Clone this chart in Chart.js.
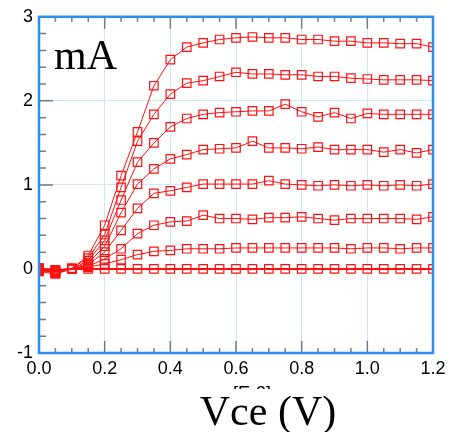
<!DOCTYPE html>
<html lang="en">
<head>
    <meta charset="UTF-8">
    <title>Ic - Vce</title>
    <script src="https://cdn.jsdelivr.net/npm/chart.js@4.4.1/dist/chart.umd.min.js"></script>
    <style>
        body { margin: 0; background: #fff; }
        .chart-box { width: 462px; height: 432px; position: relative; }
    </style>
</head>
<body>
    <div class="chart-box">
        <canvas id="ivChart"></canvas>
    </div>
    <script>
        // Vce sweep (V)
        const vce = [0.00, 0.05, 0.10, 0.15, 0.20, 0.25, 0.30, 0.35, 0.40, 0.45, 0.50, 0.55, 0.60,
                     0.65, 0.70, 0.75, 0.80, 0.85, 0.90, 0.95, 1.00, 1.05, 1.10, 1.15, 1.20];

        // collector current (mA), one curve per base step, top to bottom
        const ic1 = [-0.02, -0.04, 0.00, 0.16, 0.52, 1.11, 1.63, 2.18, 2.49, 2.64, 2.69, 2.73, 2.75,
                     2.76, 2.75, 2.75, 2.73, 2.73, 2.71, 2.71, 2.69, 2.69, 2.68, 2.68, 2.64];
        const ic2 = [0.01, -0.02, 0.01, 0.13, 0.41, 0.97, 1.52, 1.84, 2.08, 2.21, 2.24, 2.29, 2.34,
                     2.32, 2.32, 2.31, 2.31, 2.29, 2.29, 2.27, 2.26, 2.25, 2.25, 2.25, 2.24];
        const ic3 = [-0.01, -0.05, 0.00, 0.10, 0.34, 0.82, 1.27, 1.50, 1.69, 1.79, 1.84, 1.86, 1.87,
                     1.88, 1.88, 1.96, 1.87, 1.81, 1.86, 1.79, 1.85, 1.84, 1.84, 1.84, 1.84];
        const ic4 = [0.00, -0.03, 0.00, 0.07, 0.27, 0.67, 1.01, 1.19, 1.31, 1.36, 1.42, 1.43, 1.44,
                     1.52, 1.44, 1.44, 1.43, 1.45, 1.42, 1.42, 1.42, 1.39, 1.42, 1.38, 1.42];
        const ic5 = [-0.03, -0.06, 0.00, 0.05, 0.20, 0.46, 0.72, 0.90, 0.93, 0.97, 1.01, 1.01, 1.01,
                     1.01, 1.05, 1.01, 1.00, 0.99, 1.00, 0.99, 1.00, 0.99, 1.00, 0.99, 1.01];
        const ic6 = [0.01, -0.01, 0.00, 0.03, 0.12, 0.24, 0.42, 0.52, 0.56, 0.57, 0.64, 0.60, 0.60,
                     0.59, 0.61, 0.61, 0.62, 0.60, 0.58, 0.60, 0.60, 0.60, 0.60, 0.59, 0.62];
        const ic7 = [-0.02, -0.03, 0.00, 0.02, 0.06, 0.11, 0.17, 0.21, 0.22, 0.24, 0.24, 0.24, 0.25,
                     0.25, 0.25, 0.25, 0.25, 0.25, 0.25, 0.24, 0.25, 0.25, 0.24, 0.25, 0.25];
        const ic8 = [0.00, -0.02, 0.00, 0.00, 0.00, 0.00, 0.00, 0.00, 0.00, 0.00, 0.00, 0.00, 0.00,
                     0.00, 0.00, 0.00, 0.00, 0.00, 0.00, 0.00, 0.00, 0.00, 0.00, 0.00, 0.00];

        const curves = [ic1, ic2, ic3, ic4, ic5, ic6, ic7, ic8];
        const yTicks = [-1, 0, 1, 2, 3];

        const RED = '#ff1010';
        const BLUE = '#2b8ef0';

        // frame, inner tick marks and the serif labels
        const decor = {
            id: 'decor',
            beforeDatasetsDraw(chart) {
                const { ctx, chartArea: a, scales: { x, y } } = chart;
                ctx.save();
                ctx.strokeStyle = '#6d7c8a';
                ctx.lineWidth = 1.5;
                ctx.beginPath();
                // left axis: every 0.2 mA
                for (let i = 0; i <= 20; i++) {
                    const p = y.getPixelForValue(-1 + i * 0.2);
                    const len = i % 5 === 0 ? 14 : 7;
                    ctx.moveTo(a.left, p);
                    ctx.lineTo(a.left + len, p);
                }
                // top and bottom axis: every 0.05 V
                for (let i = 0; i <= 24; i++) {
                    const p = x.getPixelForValue(i * 0.05);
                    const len = i % 4 === 0 ? 12 : 5;
                    ctx.moveTo(p, a.top);
                    ctx.lineTo(p, a.top + len);
                    ctx.moveTo(p, a.bottom);
                    ctx.lineTo(p, a.bottom - len);
                }
                ctx.stroke();
                ctx.restore();
            },
            afterDraw(chart) {
                const { ctx, chartArea: a } = chart;
                ctx.save();
                ctx.strokeStyle = BLUE;
                ctx.lineWidth = 2.5;
                ctx.strokeRect(a.left, a.top, a.right - a.left, a.bottom - a.top);

                ctx.fillStyle = '#000';
                ctx.font = '42px "Liberation Serif"';
                ctx.textAlign = 'left';
                ctx.textBaseline = 'alphabetic';
                ctx.fillText('mA', 54, 69);

                // exponent marker, mostly hidden under the axis title
                ctx.save();
                ctx.beginPath();
                ctx.rect(200, 378, 100, 11);
                ctx.clip();
                ctx.font = '18px "Liberation Sans"';
                ctx.textAlign = 'center';
                ctx.fillText('[E-3]', 252, 399);
                ctx.restore();

                ctx.font = '42px "Liberation Serif"';
                ctx.textAlign = 'center';
                ctx.fillText('Vce (V)', 268, 425);
                ctx.restore();
            }
        };

        const ctx = document.getElementById('ivChart').getContext('2d');
        new Chart(ctx, {
            type: 'line',
            data: {
                datasets: curves.map((c, i) => ({
                    data: vce.map((v, j) => ({ x: v, y: c[j] })),
                    borderColor: RED,
                    borderWidth: i === curves.length - 1 ? 2 : 1,
                    backgroundColor: 'rgba(0,0,0,0)',
                    pointStyle: 'rect',
                    pointRadius: 6,
                    pointBorderWidth: 1.2,
                    pointBorderColor: RED,
                    pointBackgroundColor: 'rgba(0,0,0,0)',
                    tension: 0,
                    clip: 0
                }))
            },
            options: {
                responsive: true,
                maintainAspectRatio: false,
                animation: false,
                events: [],
                layout: { padding: { left: 0, right: 29, top: 16, bottom: 0 } },
                plugins: {
                    legend: { display: false },
                    tooltip: { enabled: false }
                },
                scales: {
                    x: {
                        type: 'linear',
                        min: 0,
                        max: 1.2,
                        afterFit: s => { s.height = 79; },
                        ticks: {
                            stepSize: 0.2,
                            padding: 5,
                            color: '#000',
                            font: { family: 'Liberation Sans', size: 18 },
                            callback: v => v.toFixed(1)
                        },
                        grid: { color: '#cde8fb', lineWidth: 1, drawTicks: false },
                        border: { display: false }
                    },
                    y: {
                        type: 'linear',
                        min: -1,
                        max: 3,
                        afterFit: s => { s.width = 39; },
                        afterBuildTicks: s => { s.ticks = yTicks.map(v => ({ value: v })); },
                        ticks: {
                            padding: 6,
                            color: '#000',
                            font: { family: 'Liberation Sans', size: 18 },
                            callback: v => String(v)
                        },
                        grid: { color: '#cde8fb', lineWidth: 1, drawTicks: false },
                        border: { display: false }
                    }
                }
            },
            plugins: [decor]
        });
    </script>
</body>
</html>
